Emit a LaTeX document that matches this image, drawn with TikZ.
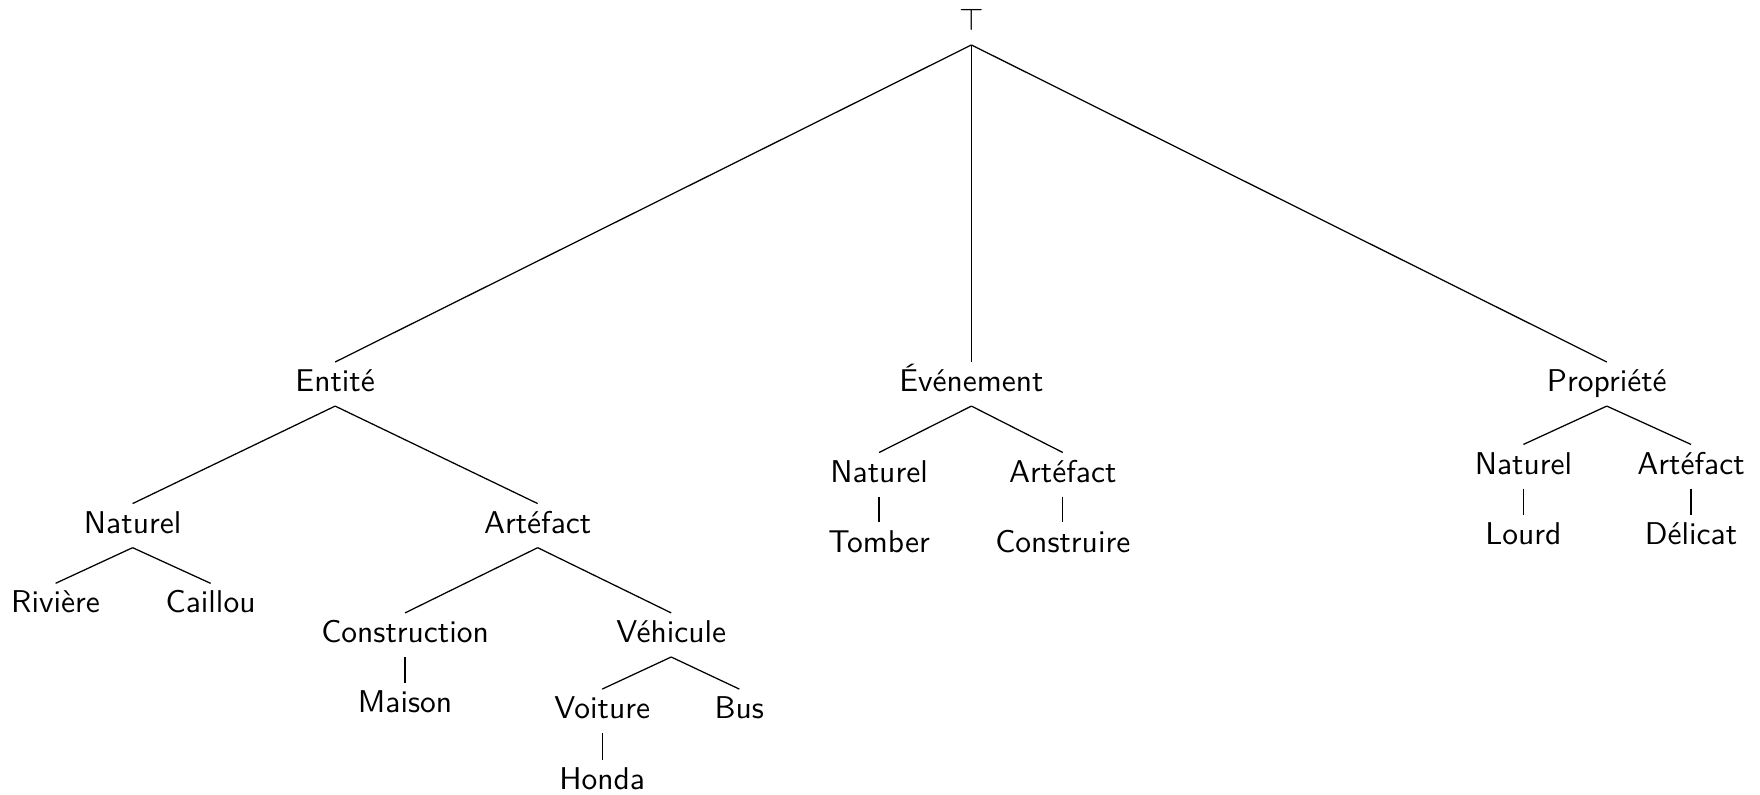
\documentclass[tikz,border=0pt]{standalone}
\usepackage{amsmath, amssymb}
\usepackage{tikz}
\usetikzlibrary{positioning}

\begin{document}
\begin{tikzpicture}[cat/.style={inner sep=0pt, anchor=base, text height=9.2pt, text depth=4.4pt, font=\sffamily}]
		\useasboundingbox (0,0) rectangle (19.64,8.87);
		
		% Root
		\node[cat] (top) at (10.84,8.53) {$\top$};
		
		% First level
		\node[cat] (ent) at (3.74,4.50) {Entité};
		\node[cat] (evt) at (10.84,4.50) {Événement};
		\node[cat] (prop) at (17.93,4.50) {Propriété};
		
		% Entite branch
		\node[cat] (entnat) at (1.48,2.92) {Naturel};
		\node[cat] (entart) at (6.00,2.92) {Artéfact};
		\node[cat] (riv) at (0.62,2.03) {Rivière};
		\node[cat] (cail) at (2.35,2.03) {Caillou};
		\node[cat] (constr) at (4.52,1.70) {Construction};
		\node[cat] (veh) at (7.49,1.70) {Véhicule};
		\node[cat] (mais) at (4.52,0.92) {Maison};
		\node[cat] (voit) at (6.72,0.85) {Voiture};
		\node[cat] (bus) at (8.25,0.85) {Bus};
		\node[cat] (honda) at (6.72,0.06) {Honda};
		
		% Evenement branch
		\node[cat] (evtnat) at (9.81,3.49) {Naturel};
		\node[cat] (evtart) at (11.86,3.49) {Artéfact};
		\node[cat] (tomb) at (9.81,2.71) {Tomber};
		\node[cat] (constre) at (11.86,2.71) {Construire};
		
		% Propriete branch
		\node[cat] (propnat) at (17.00,3.58) {Naturel};
		\node[cat] (propart) at (18.87,3.58) {Artéfact};
		\node[cat] (lourd) at (17.00,2.79) {Lourd};
		\node[cat] (delic) at (18.87,2.79) {Délicat};
		
		% Edges
		\draw (top.south) -- (ent.north);
		\draw (top.south) -- (evt.north);
		\draw (top.south) -- (prop.north);
		\draw (ent.south) -- (entnat.north);
		\draw (ent.south) -- (entart.north);
		\draw (entnat.south) -- (riv.north);
		\draw (entnat.south) -- (cail.north);
		\draw (entart.south) -- (constr.north);
		\draw (entart.south) -- (veh.north);
		\draw (constr.south) -- (mais.north);
		\draw (veh.south) -- (voit.north);
		\draw (veh.south) -- (bus.north);
		\draw (voit.south) -- (honda.north);
		\draw (evt.south) -- (evtnat.north);
		\draw (evt.south) -- (evtart.north);
		\draw (evtnat.south) -- (tomb.north);
		\draw (evtart.south) -- (constre.north);
		\draw (prop.south) -- (propnat.north);
		\draw (prop.south) -- (propart.north);
		\draw (propnat.south) -- (lourd.north);
		\draw (propart.south) -- (delic.north);
	\end{tikzpicture}
\end{document}
